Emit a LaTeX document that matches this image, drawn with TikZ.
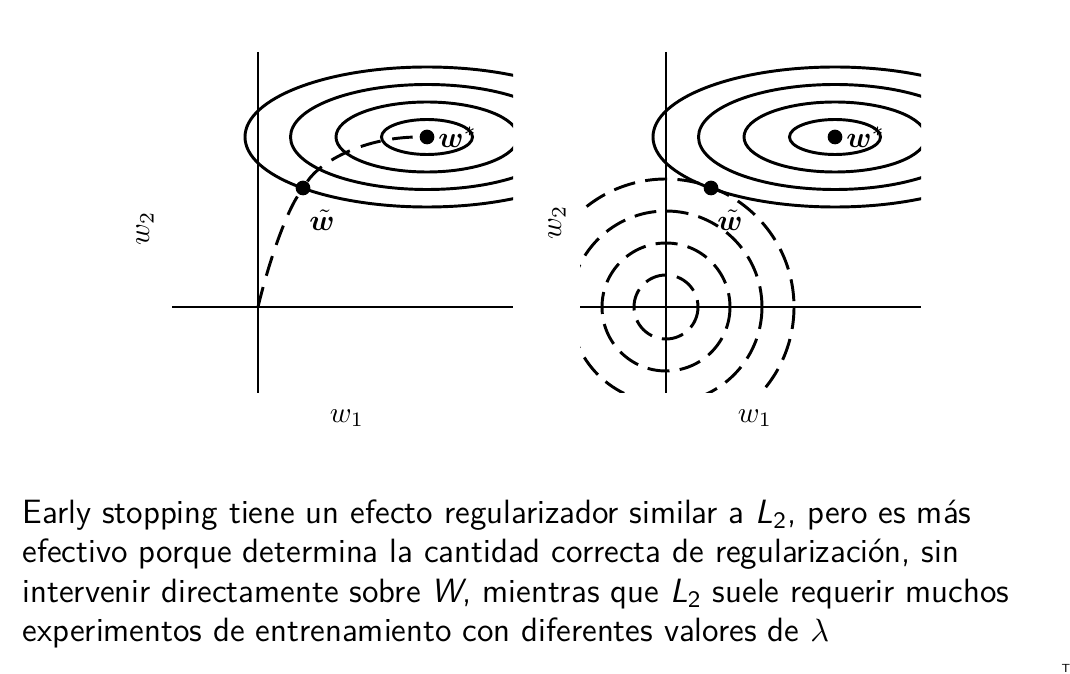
\documentclass[tikz,border=0pt]{standalone}
\usepackage{amsmath}
\usepackage{bm}
\usetikzlibrary{positioning}

\begin{document}
\begin{tikzpicture}[x=0.34pt, y=-0.34pt,
    axis/.style={line width=1pt},
    level/.style={line width=1pt},
    trajectory/.style={line width=1pt, dash pattern=on 7pt off 4pt},
    penalty/.style={line width=1pt, dash pattern=on 7.5pt off 3.5pt},
    dot/.style={circle, fill=black, inner sep=0pt, minimum size=5pt},
    lbl/.style={font=\fontsize{10}{12}\selectfont, inner sep=1pt}]
    \useasboundingbox (0,0) rectangle (1070,674);
    % both panels, the right one moved by 408
    \foreach \ox/\nm in {0/L,408/R} {
        \begin{scope}
            \clip (172+\ox,52) rectangle (513+\ox,393);
            \foreach \k in {1,...,4}
                \draw[level] (427+\ox,137) ellipse [x radius=45.5*\k, y radius=17.5*\k];
        \end{scope}
        \draw[axis] (172+\ox,307) -- (513+\ox,307);
        \draw[axis] (258+\ox,52) -- (258+\ox,393);
        \coordinate (o\nm) at (258+\ox,307);
        \node[dot] (ws\nm) at (427+\ox,137) {};
        \node[dot] (wt\nm) at (303+\ox,188) {};
        \node[lbl, right] (ws\nm lab) at (ws\nm.east) {$\bm{w}^{*}$};
        \node[lbl] (wt\nm lab) at (322+\ox,220) {$\tilde{\bm{w}}$};
        \node[lbl] (xa\nm) at (347+\ox,418) {$w_1$};
    }
    \node[lbl, rotate=90] (yaL) at (145,228) {$w_2$};
    \node[lbl, rotate=90] (yaR) at (557,222) {$w_2$};
    % early stopping trajectory
    \draw[trajectory] (oL) .. controls (268,265) and (285,215) .. (wtL)
        .. controls (321,161) and (365,137) .. (wsL);
    % L2 penalty circles
    \begin{scope}
        \clip (580,52) rectangle (921,393);
        \foreach \k in {1,...,4}
            \draw[penalty] (oR) circle [radius=32*\k];
    \end{scope}
    \node[anchor=north west, inner sep=0pt, align=left,
        font=\sffamily\fontsize{11.45}{13.45}\selectfont] (caption) at (22,499)
        {Early stopping tiene un efecto regularizador similar a \textit{L}\textsubscript{2}, pero es más\\
         efectivo porque determina la cantidad correcta de regularización, sin\\
         intervenir directamente sobre \textit{W}, mientras que \textit{L}\textsubscript{2} suele requerir muchos\\
         experimentos de entrenamiento con diferentes valores de $\lambda$};
    \node[font=\sffamily\fontsize{4}{4}\selectfont, inner sep=0pt] (mark) at (1066,668) {T};
\end{tikzpicture}
\end{document}
